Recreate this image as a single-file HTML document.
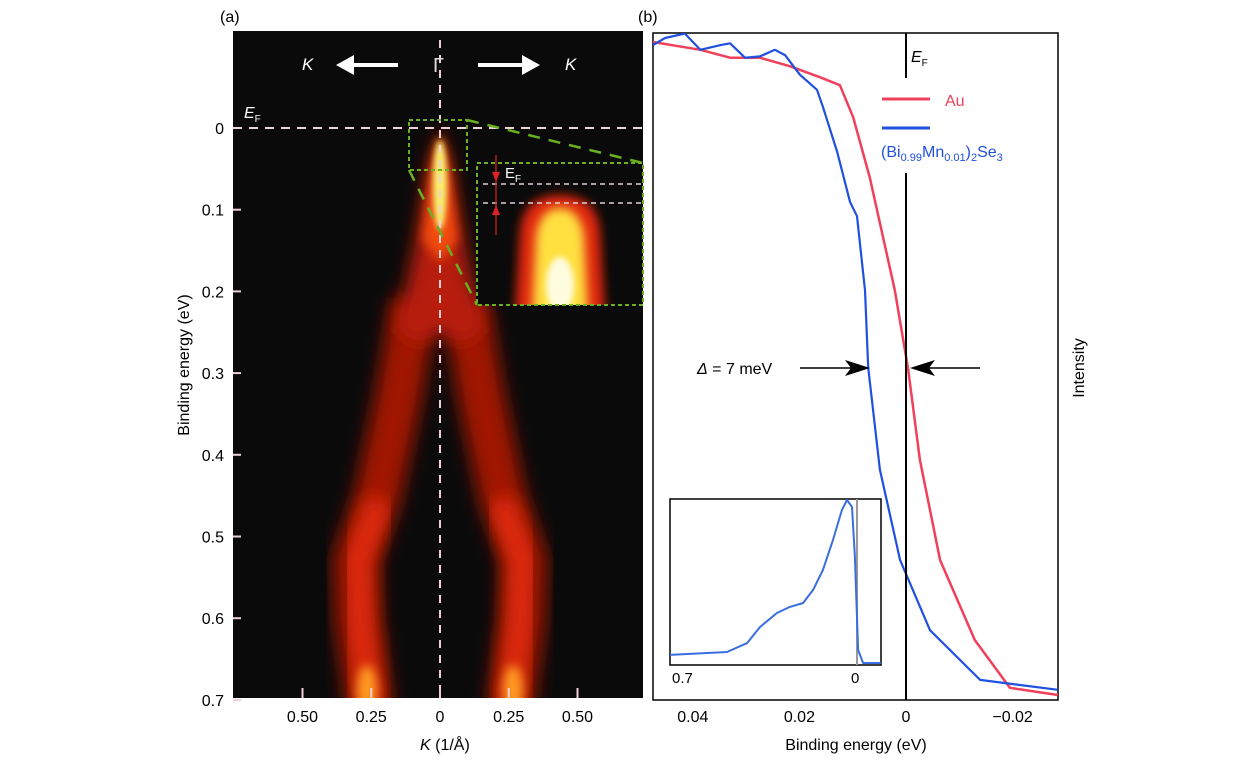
<!DOCTYPE html>
<html><head><meta charset="utf-8"><style>
body{margin:0;background:#fff;width:1260px;height:758px;overflow:hidden;font-family:"Liberation Sans",sans-serif}
svg text{font-family:"Liberation Sans",sans-serif}
</style></head><body>
<svg id="fig" width="1260" height="758" viewBox="0 0 1260 758">
<defs>
<filter id="b8" x="-50%" y="-50%" width="200%" height="200%"><feGaussianBlur stdDeviation="9"/></filter>
<filter id="b5" x="-50%" y="-50%" width="200%" height="200%"><feGaussianBlur stdDeviation="5"/></filter>
<filter id="b3" x="-50%" y="-50%" width="200%" height="200%"><feGaussianBlur stdDeviation="3"/></filter>
<clipPath id="clipA"><rect x="233" y="31" width="410" height="667"/></clipPath>
<clipPath id="clipB"><rect x="653" y="33" width="405" height="667"/></clipPath>
<clipPath id="clipI"><rect x="670" y="499" width="211" height="166"/></clipPath>
<clipPath id="clipIn"><rect x="477" y="163" width="166" height="142"/></clipPath>
</defs>
<text x="220" y="22" font-size="16">(a)</text>
<text x="638" y="22" font-size="16">(b)</text>
<g id="panelA">
<rect x="233" y="31" width="410" height="667" fill="#0a0a0a"/>
<g clip-path="url(#clipA)">
<polyline points="415,300 398,400 377,500 356,560 358,620 370,710" fill="none" stroke="#a01506" stroke-width="46" filter="url(#b8)" stroke-linejoin="round"/>
<polyline points="465,300 482,400 503,500 524,560 522,620 510,710" fill="none" stroke="#a01506" stroke-width="46" filter="url(#b8)" stroke-linejoin="round"/>
<polyline points="380,500 358,560 360,620 370,710" fill="none" stroke="#e02a10" stroke-width="26" filter="url(#b8)"/>
<polyline points="500,500 522,560 520,620 510,710" fill="none" stroke="#e02a10" stroke-width="26" filter="url(#b8)"/>
<ellipse cx="367" cy="690" rx="10" ry="25" fill="#ff9a20" filter="url(#b5)"/>
<ellipse cx="513" cy="690" rx="10" ry="25" fill="#ff9a20" filter="url(#b5)"/>
<polygon points="440,128 452,170 466,250 484,330 460,345 440,330 420,345 396,330 414,250 428,170" fill="#b81a08" filter="url(#b8)"/>
<polygon points="440,132 450,175 458,240 440,262 422,240 430,175" fill="#f04a10" filter="url(#b5)"/>
<ellipse cx="440" cy="185" rx="7" ry="45" fill="#f8ee70" filter="url(#b3)"/>
<rect x="476" y="163" width="167" height="142" fill="#0a0a0a"/>
<g clip-path="url(#clipIn)">
<path d="M515,315 L520,230 Q524,195 560,195 Q596,195 600,230 L605,315 Z" fill="#e02810" filter="url(#b5)"/>
<path d="M532,315 L536,235 Q541,208 560,208 Q579,208 584,235 L588,315 Z" fill="#ffe040" filter="url(#b5)"/>
<ellipse cx="560" cy="285" rx="14" ry="28" fill="#fffce0" filter="url(#b3)"/>
</g>
</g>
<g>
<line x1="440" y1="40" x2="440" y2="698" stroke="#f0d0d8" stroke-width="2" stroke-dasharray="8,7"/>
<line x1="233" y1="128" x2="643" y2="128" stroke="#f0d0d8" stroke-width="2" stroke-dasharray="9,7"/>
<rect x="409" y="120" width="58" height="50" fill="none" stroke="#6ab020" stroke-width="2" stroke-dasharray="4,3"/>
<rect x="477" y="163" width="166" height="142" fill="none" stroke="#6ab020" stroke-width="2" stroke-dasharray="4,3"/>
<line x1="467" y1="120" x2="643" y2="163" stroke="#6ab020" stroke-width="2.5" stroke-dasharray="12,9"/>
<line x1="409" y1="170" x2="477" y2="305" stroke="#6ab020" stroke-width="2.5" stroke-dasharray="12,9"/>
<line x1="483" y1="184" x2="643" y2="184" stroke="#e0d0d8" stroke-width="1.5" stroke-dasharray="5,4"/>
<line x1="483" y1="203" x2="643" y2="203" stroke="#e0d0d8" stroke-width="1.5" stroke-dasharray="5,4"/>
<line x1="496" y1="155" x2="496" y2="235" stroke="#e02020" stroke-width="1.2"/>
<polygon points="492,172 500,172 496,182" fill="#e02020"/>
<polygon points="492,215 500,215 496,205" fill="#e02020"/>
<text x="505" y="178" font-size="15" fill="#fff">E<tspan font-size="10" dy="4">F</tspan></text>
</g>
<g>
<text x="302" y="70" font-size="17" font-style="italic" fill="#fff">K</text>
<line x1="350" y1="65" x2="398" y2="65" stroke="#fff" stroke-width="4"/>
<polygon points="336,65 354,55 354,75" fill="#fff"/>
<text x="565" y="70" font-size="17" font-style="italic" fill="#fff">K</text>
<line x1="478" y1="65" x2="526" y2="65" stroke="#fff" stroke-width="4"/>
<polygon points="540,65 522,55 522,75" fill="#fff"/>
<text x="433" y="72" font-size="20" fill="#ddd" font-family="Liberation Serif">Γ</text>
<text x="244" y="118" font-size="16" font-style="italic" fill="#fff">E<tspan font-size="10" font-style="normal" dy="4">F</tspan></text>
</g>
<g id="axA"></g>
<text x="420" y="750" font-size="16"><tspan font-style="italic">K</tspan> (1/Å)</text>
<text transform="translate(189,365) rotate(-90)" text-anchor="middle" font-size="16">Binding energy (eV)</text>
</g>
<g id="panelB">
<rect x="653" y="33" width="405" height="667" fill="#fff" stroke="#000" stroke-width="1.5"/>
<g id="curves" clip-path="url(#clipB)"></g>
<line x1="906" y1="33" x2="906" y2="78" stroke="#000" stroke-width="2"/>
<line x1="906" y1="173" x2="906" y2="700" stroke="#000" stroke-width="2"/>
<text x="911" y="62" font-size="16" font-style="italic">E<tspan font-size="10" font-style="normal" dy="4">F</tspan></text>
<line x1="882" y1="99" x2="930" y2="99" stroke="#f0405a" stroke-width="3"/>
<text x="945" y="106" font-size="16" fill="#f0405a">Au</text>
<line x1="882" y1="128" x2="930" y2="128" stroke="#2050e0" stroke-width="3"/>
<text x="881" y="157" font-size="16" fill="#2050e0">(Bi<tspan font-size="11" dy="4">0.99</tspan><tspan dy="-4">Mn</tspan><tspan font-size="11" dy="4">0.01</tspan><tspan dy="-4">)</tspan><tspan font-size="11" dy="4">2</tspan><tspan dy="-4">Se</tspan><tspan font-size="11" dy="4">3</tspan></text>
<g>
<text x="697" y="374" font-size="16"><tspan font-style="italic">Δ</tspan> = 7 meV</text>
<line x1="800" y1="368" x2="855" y2="368" stroke="#000" stroke-width="1.5"/>
<polygon points="870,368 845,360 851,368 845,376" fill="#000"/>
<line x1="925" y1="368" x2="980" y2="368" stroke="#000" stroke-width="1.5"/>
<polygon points="910,368 935,360 929,368 935,376" fill="#000"/>
</g>
<text transform="translate(1084,368) rotate(-90)" text-anchor="middle" font-size="16">Intensity</text>
<g id="axB"></g>
<text x="856" y="750" text-anchor="middle" font-size="16">Binding energy (eV)</text>
<g>
<rect x="670" y="499" width="211" height="166" fill="#fff" stroke="#000" stroke-width="1.5"/>
<line x1="857" y1="499" x2="857" y2="665" stroke="#999" stroke-width="2"/>
<g id="inset" clip-path="url(#clipI)"></g>
<text x="672" y="683" font-size="15">0.7</text>
<text x="851" y="683" font-size="15">0</text>
</g>
</g>
</svg>
<script>
const NS="http://www.w3.org/2000/svg";
// Panel (a) axes
const aYTicks=[0,0.1,0.2,0.3,0.4,0.5,0.6,0.7];
const aXTickVals=[-0.5,-0.25,0,0.25,0.5];
const aXTickLabels=["0.50","0.25","0","0.25","0.50"];
// Panel (b) EDC data
const auE=[0.0475,0.0386,0.0330,0.0274,0.0218,0.0161,0.0124,0.0099,0.0068,0.0021,-0.0004,-0.0026,-0.0064,-0.0129,-0.0195,-0.0285];
const auI=[0.997,0.985,0.973,0.973,0.960,0.943,0.931,0.882,0.79,0.618,0.498,0.359,0.206,0.084,0.011,0.0];
const bmsE=[0.0475,0.0452,0.0415,0.0386,0.0349,0.0330,0.0302,0.0274,0.0246,0.0227,0.0199,0.0167,0.0156,0.0129,0.0105,0.0092,0.0077,0.0071,0.0049,0.0011,-0.0045,-0.0139,-0.0285];
const bmsI=[0.992,1.003,1.01,0.985,0.992,0.995,0.973,0.975,0.985,0.977,0.947,0.924,0.898,0.829,0.753,0.731,0.618,0.50,0.344,0.206,0.099,0.023,0.008];
const bTicks=[0.04,0.02,0,-0.02];
const bTickLabels=["0.04","0.02","0","\u22120.02"];
// Inset data
const insE=[0.708,0.492,0.416,0.367,0.303,0.254,0.204,0.166,0.129,0.091,0.057,0.038,0.019,0.008,-0.004,-0.023,-0.095];
const insI=[0.061,0.079,0.133,0.230,0.315,0.352,0.376,0.455,0.576,0.758,0.939,1.0,0.958,0.655,0.091,0.012,0.012];

const ayS=v=>128+v*817;
const axS=k=>440+k*275;
const bxS=e=>906-e*5330;
const byS=i=>695-i*655;
const ixS=e=>857-e*185/0.7;
const iyS=i=>665-i*165;

const axA=document.getElementById('axA');
aYTicks.forEach(v=>{
  const t=document.createElementNS(NS,'line');
  t.setAttribute('x1',233);t.setAttribute('x2',241);t.setAttribute('y1',ayS(v));t.setAttribute('y2',ayS(v));
  t.setAttribute('stroke','#f0d0d8');t.setAttribute('stroke-width',2);
  
  
  axA.appendChild(t);
  const l=document.createElementNS(NS,'text');
  l.setAttribute('x',224);l.setAttribute('y',ayS(v)+6);l.setAttribute('text-anchor','end');l.setAttribute('font-size','16');
  l.textContent=v===0?'0':v.toFixed(1);
  
  
  axA.appendChild(l);
});
aXTickVals.forEach((k,i)=>{
  const t=document.createElementNS(NS,'line');
  t.setAttribute('x1',axS(k));t.setAttribute('x2',axS(k));t.setAttribute('y1',688);t.setAttribute('y2',698);
  t.setAttribute('stroke','#f0d0d8');t.setAttribute('stroke-width',2);
  
  
  axA.appendChild(t);
  const l=document.createElementNS(NS,'text');
  l.setAttribute('x',axS(k));l.setAttribute('y',722);l.setAttribute('text-anchor','middle');l.setAttribute('font-size','16');
  l.textContent=aXTickLabels[i];
  
  
  axA.appendChild(l);
});

const axB=document.getElementById('axB');
bTicks.forEach((e,i)=>{
  const l=document.createElementNS(NS,'text');
  l.setAttribute('x',bxS(e));l.setAttribute('y',722);l.setAttribute('text-anchor','middle');l.setAttribute('font-size','16');
  l.textContent=bTickLabels[i];
  
  
  axB.appendChild(l);
});

function line(g,E,I,xs,ys,color,w,name){
  const p=document.createElementNS(NS,'polyline');
  p.setAttribute('points',E.map((e,i)=>xs(e).toFixed(1)+','+ys(I[i]).toFixed(1)).join(' '));
  p.setAttribute('fill','none');p.setAttribute('stroke',color);p.setAttribute('stroke-width',w);p.setAttribute('stroke-linejoin','round');
  
  
  g.appendChild(p);
}
const cg=document.getElementById('curves');
line(cg,auE,auI,bxS,byS,'#f0405a',2.5,'au-curve');
line(cg,bmsE,bmsI,bxS,byS,'#2050e0',2.2,'bms-curve');
line(document.getElementById('inset'),insE,insI,ixS,iyS,'#3a6ee0',2,'inset-curve');
</script>
</body></html>
